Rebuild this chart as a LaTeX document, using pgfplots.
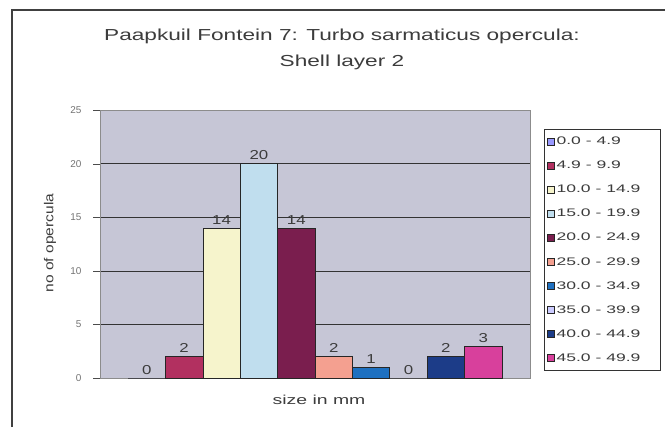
\documentclass[border=0pt]{standalone}
\usepackage{pgfplots}
\pgfplotsset{compat=1.18}
\usepackage{fontspec}
\setmainfont{Liberation Sans}
\definecolor{plotbg}{RGB}{198,198,214}
\definecolor{cA}{RGB}{153,153,255}
\definecolor{cB}{RGB}{178,48,96}
\definecolor{cC}{RGB}{246,244,204}
\definecolor{cD}{RGB}{192,222,238}
\definecolor{cE}{RGB}{122,30,78}
\definecolor{cF}{RGB}{244,160,144}
\definecolor{cG}{RGB}{30,112,192}
\definecolor{cH}{RGB}{204,204,255}
\definecolor{cI}{RGB}{28,60,136}
\definecolor{cJ}{RGB}{216,64,156}
\definecolor{txt}{RGB}{60,60,60}
\newcommand\sx[1]{\scalebox{1.6}[1]{#1}}
\newcommand\sn[1]{\scalebox{1.3}[1]{#1}}
\begin{document}
\begin{tikzpicture}[x=1bp,y=1bp]
\useasboundingbox (0,0) rectangle (665,427);
% chart area frame (top and left edges)
\draw[black!75, line width=1.6bp] (12,0) -- (12,417) -- (665,417);
% title
\node[txt, font=\fontsize{16}{26}\selectfont, align=center, xscale=1.42, transform shape] at (342,378) {Paapkuil Fontein 7: Turbo sarmaticus opercula:\\Shell layer 2};
% axis labels
\node[txt, font=\fontsize{13}{15}\selectfont, xscale=1.5, transform shape] at (319,27) {size in mm};
\node[txt, font=\fontsize{13}{15}\selectfont, rotate=90, xscale=1.2, transform shape] at (50,184) {no of opercula};
\begin{axis}[
  at={(100bp,49bp)}, anchor=south west,
  width=430bp, height=268bp, scale only axis,
  xmin=-1.25, xmax=10.25, ymin=0, ymax=25,
  ybar, bar shift=0pt, bar width=1,
  axis background/.style={fill=plotbg},
  xtick=\empty,
  ytick={0,5,10,15,20,25}, ytick pos=left,
  tick align=outside, major tick length=7bp,
  ytick style={black!70},
  ymajorgrids, grid style={black!80, line width=0.6bp},
  axis line style={black!45},
  yticklabel style={font=\fontsize{10}{12}\selectfont, text=black!55, xshift=-8bp},
  /pgf/number format/assume math mode=true,
  every axis plot/.append style={draw=black!85, line width=0.6bp},
  nodes near coords={\sn{\pgfmathprintnumber\pgfplotspointmeta}},
  nodes near coords style={font=\fontsize{13}{15}\selectfont, text=txt},
  legend style={at={(1,1)}, anchor=north west, xshift=14bp, yshift=-19bp,
    draw=black!80, fill=white, font=\fontsize{11}{13}\selectfont, text=txt,
    row sep=10.9bp, inner xsep=3bp, inner ysep=6bp},
  legend cell align=left,
  legend image code/.code={\draw[#1, line width=0.4bp] (0bp,-3.5bp) rectangle (7bp,3.5bp);},
]
\addplot[fill=cA] coordinates {(0,0)};
\addplot[fill=cB] coordinates {(1,2)};
\addplot[fill=cC] coordinates {(2,14)};
\addplot[fill=cD] coordinates {(3,20)};
\addplot[fill=cE] coordinates {(4,14)};
\addplot[fill=cF] coordinates {(5,2)};
\addplot[fill=cG] coordinates {(6,1)};
\addplot[fill=cH] coordinates {(7,0)};
\addplot[fill=cI] coordinates {(8,2)};
\addplot[fill=cJ] coordinates {(9,3)};
\legend{\sx{0.0 - 4.9}, \sx{4.9 - 9.9}, \sx{10.0 - 14.9}\hspace*{15bp}, \sx{15.0 - 19.9}, \sx{20.0 - 24.9}, \sx{25.0 - 29.9}, \sx{30.0 - 34.9}, \sx{35.0 - 39.9}, \sx{40.0 - 44.9}, \sx{45.0 - 49.9}}
\end{axis}
\end{tikzpicture}
\end{document}
